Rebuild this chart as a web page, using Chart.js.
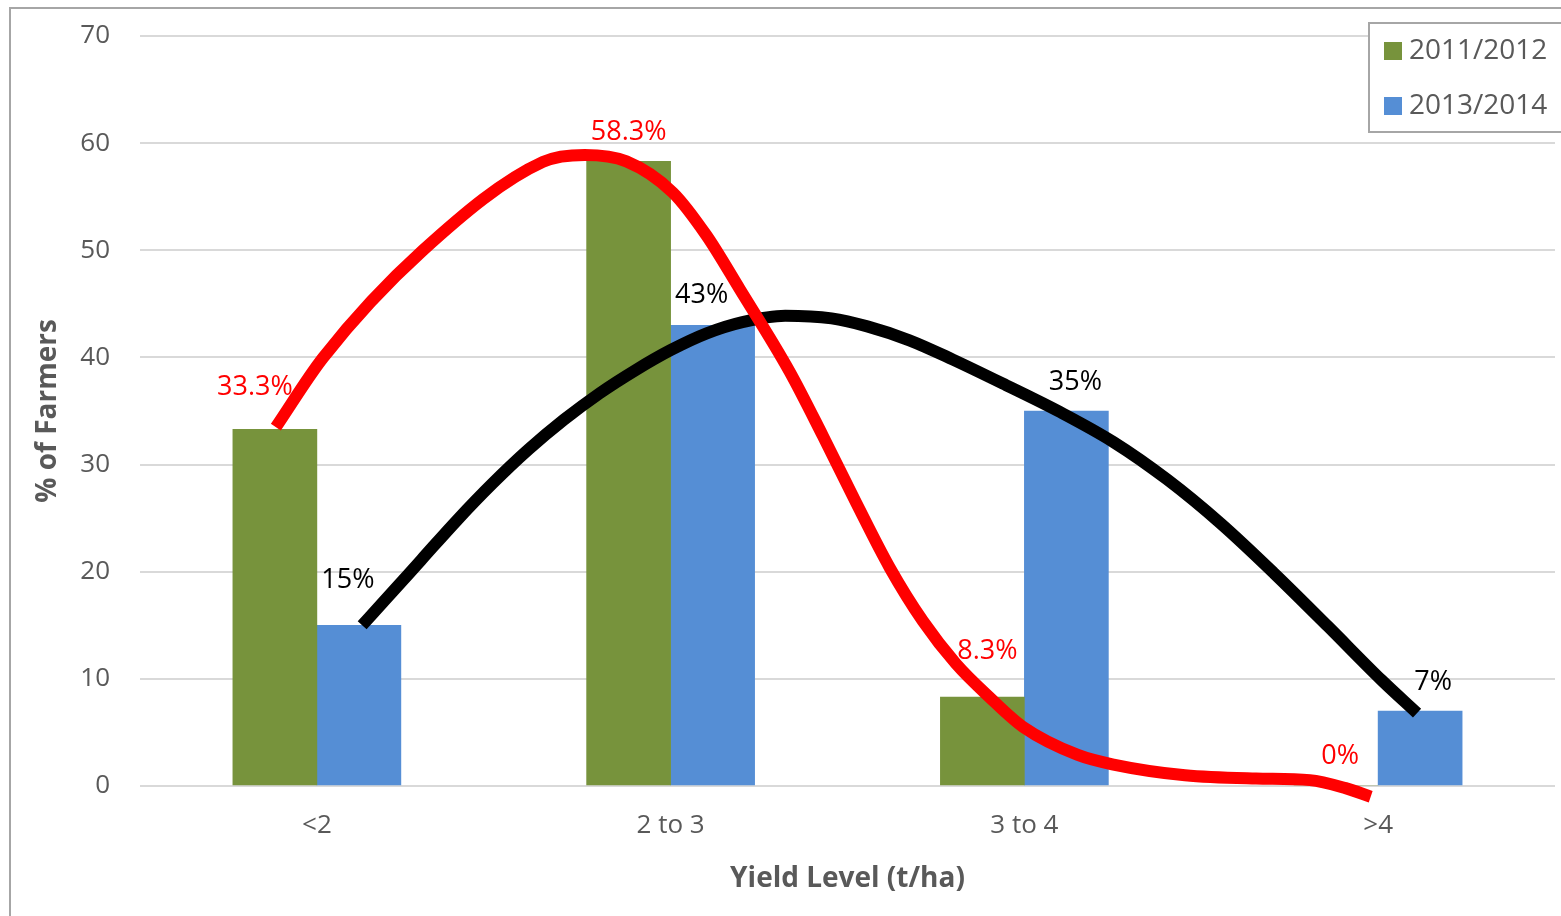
<!DOCTYPE html>
<html>
<head>
<meta charset="utf-8">
<script src="https://cdn.jsdelivr.net/npm/chart.js@4.4.1/dist/chart.umd.min.js"></script>
<style>
  html, body { margin: 0; padding: 0; background: #fff; overflow: hidden; }
  #frame { position: absolute; left: 9px; top: 7px; width: 1700px; height: 1000px;
           border-left: 2px solid #a6a6a6; border-top: 2px solid #a6a6a6; }
  #c { position: absolute; left: 0; top: 0; }
</style>
</head>
<body>
<div id="frame"></div>
<canvas id="c" width="1561" height="916"></canvas>
<script>
// Yield classes and share of farmers in each (%)
const categories = ['<2', '2 to 3', '3 to 4', '>4'];
const seriesNames = ['2011/2012', '2013/2014'];
const values2011 = [33.3, 58.3, 8.3, 0];
const values2013 = [15, 43, 35, 7];
const labels2011 = ['33.3%', '58.3%', '8.3%', '0%'];
const labels2013 = ['15%', '43%', '35%', '7%'];
const yTicks = [0, 10, 20, 30, 40, 50, 60, 70];

// Freehand trend curves: [category position, percent]
const trend2011 = [
  [-0.116, 33.5], [0.018, 40.0], [0.300, 50.0], [0.639, 58.25], [0.757, 58.9],
  [0.875, 58.3], [1.006, 55.4], [1.101, 51.4], [1.195, 46.4], [1.336, 38.7],
  [1.430, 32.7], [1.525, 26.4], [1.619, 20.4], [1.713, 15.4], [1.807, 11.4],
  [1.901, 8.3], [1.997, 5.5], [2.151, 2.9], [2.252, 2.0], [2.454, 1.0],
  [2.655, 0.7], [2.807, 0.55], [2.908, -0.2], [2.979, -1.0]
];
const trend2013 = [
  [0.128, 15.0], [0.194, 17.4], [0.295, 21.1], [0.396, 24.8], [0.497, 28.25],
  [0.598, 31.4], [0.699, 34.2], [0.799, 36.65], [0.900, 38.8], [1.001, 40.7],
  [1.102, 42.25], [1.203, 43.3], [1.324, 43.9], [1.455, 43.65], [1.556, 42.9],
  [1.675, 41.6], [1.798, 39.8], [1.949, 37.4], [2.101, 34.9], [2.252, 32.1],
  [2.404, 28.6], [2.555, 24.5], [2.706, 19.85], [2.858, 14.9], [3.009, 9.9],
  [3.110, 6.8]
];

const GREEN = '#77933c', BLUE = '#558ed5', TEXT = '#595959';
const FONT = "'Open Sans', sans-serif";

// Value labels above the bars (nudged clear of the curves)
const labelShift = [
  [[-20, -42], [0, -29], [5, -46], [4, -30]],
  [[-11, -45], [-11, -30], [9, -29], [13, -29]]
];
const labelColors = ['#ff0000', '#000000'];
const labelTexts = [labels2011, labels2013];

const valueLabels = {
  id: 'valueLabels',
  afterDatasetsDraw(chart) {
    const ctx = chart.ctx;
    ctx.save();
    ctx.font = "27px " + FONT;
    ctx.textAlign = 'center';
    ctx.textBaseline = 'middle';
    [2, 3].forEach((di, s) => {
      const meta = chart.getDatasetMeta(di);
      meta.data.forEach((bar, i) => {
        const [dx, dy] = labelShift[s][i];
        ctx.fillStyle = labelColors[s];
        ctx.fillText(labelTexts[s][i], bar.x + dx, bar.y + dy);
      });
    });
    ctx.restore();
  }
};

const boxLegend = {
  id: 'boxLegend',
  afterDraw(chart) {
    const ctx = chart.ctx;
    ctx.save();
    ctx.fillStyle = '#fff';
    ctx.fillRect(1369, 23, 260, 109);
    ctx.strokeStyle = '#a6a6a6';
    ctx.lineWidth = 2;
    ctx.strokeRect(1369, 23, 260, 109);
    ctx.font = "28px " + FONT;
    ctx.textAlign = 'left';
    ctx.textBaseline = 'middle';
    const colors = [GREEN, BLUE];
    seriesNames.forEach((name, i) => {
      const cy = 51 + i * 55;
      ctx.fillStyle = colors[i];
      ctx.fillRect(1384, cy - 9, 18, 18);
      ctx.fillStyle = TEXT;
      ctx.fillText(name, 1409, cy);
    });
    ctx.restore();
  }
};

const toPts = arr => arr.map(([x, y]) => ({ x, y }));
const toBars = arr => arr.map((y, x) => ({ x, y }));

new Chart(document.getElementById('c'), {
  type: 'bar',
  data: {
    datasets: [
      {
        type: 'line', label: 'trend ' + seriesNames[0], data: toPts(trend2011),
        borderColor: '#ff0000', borderWidth: 12, cubicInterpolationMode: 'monotone',
        pointRadius: 0, borderCapStyle: 'butt', borderJoinStyle: 'round', clip: false, order: 0
      },
      {
        type: 'line', label: 'trend ' + seriesNames[1], data: toPts(trend2013),
        borderColor: '#000000', borderWidth: 12, cubicInterpolationMode: 'monotone',
        pointRadius: 0, borderCapStyle: 'butt', borderJoinStyle: 'round', clip: false, order: 0
      },
      {
        label: seriesNames[0], data: toBars(values2011), backgroundColor: GREEN,
        barThickness: 84, order: 1
      },
      {
        label: seriesNames[1], data: toBars(values2013), backgroundColor: BLUE,
        barThickness: 84, order: 1
      }
    ]
  },
  options: {
    responsive: false,
    animation: false,
    layout: { padding: { top: 36, right: 6, left: 0, bottom: 0 } },
    plugins: { legend: { display: false }, tooltip: { enabled: false } },
    scales: {
      x: {
        type: 'linear', min: -0.5, max: 3.5, offset: false,
        afterBuildTicks(ax) { ax.ticks = categories.map((_, i) => ({ value: i })); },
        grid: { display: false, drawTicks: false },
        border: { display: false },
        ticks: {
          color: TEXT, font: { family: FONT, size: 26 }, padding: 24,
          callback: v => categories[v]
        },
        title: {
          display: true, text: 'Yield Level (t/ha)', color: TEXT,
          font: { family: FONT, size: 28, weight: 'bold' }, padding: { top: 20, bottom: 20 }
        },
        afterFit(ax) { ax.height = 130; ax.paddingLeft = 0; ax.paddingRight = 0; }
      },
      y: {
        min: 0, max: 70,
        afterBuildTicks(ax) { ax.ticks = yTicks.map(v => ({ value: v })); },
        grid: { color: '#d9d9d9', lineWidth: 2, drawTicks: false },
        border: { display: false },
        ticks: { color: TEXT, font: { family: FONT, size: 26 }, padding: 30 },
        title: {
          display: true, text: '% of Farmers', color: TEXT,
          font: { family: FONT, size: 28, weight: 'bold' }, padding: { top: 31, bottom: 31 }
        },
        afterFit(ax) { ax.width = 140; ax.paddingTop = 0; ax.paddingBottom = 0; }
      }
    }
  },
  plugins: [valueLabels, boxLegend]
});
</script>
</body>
</html>
